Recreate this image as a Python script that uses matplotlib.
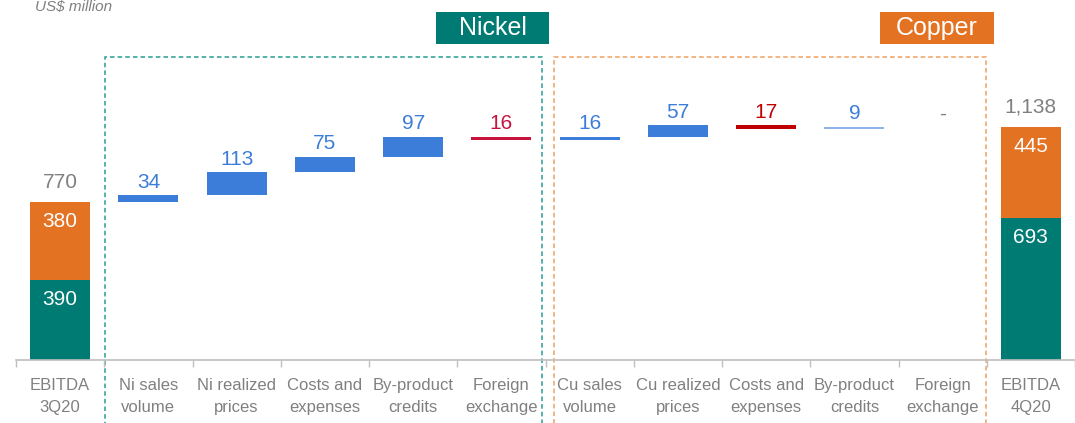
import matplotlib
matplotlib.use("Agg")
import matplotlib.pyplot as plt
from matplotlib.patches import Rectangle
from matplotlib import font_manager
import matplotlib.transforms as mtransforms

plt.rcParams['font.family'] = ['Liberation Sans', 'DejaVu Sans']

# --- data -------------------------------------------------------------
categories = ['EBITDA\n3Q20', 'Ni sales\nvolume', 'Ni realized\nprices',
              'Costs and\nexpenses', 'By-product\ncredits', 'Foreign\nexchange',
              'Cu sales\nvolume', 'Cu realized\nprices', 'Costs and\nexpenses',
              'By-product\ncredits', 'Foreign\nexchange', 'EBITDA\n4Q20']
start_nickel, start_copper = 390, 380
end_nickel, end_copper = 693, 445
deltas = [34, 113, 75, 97, -16, 16, 57, -17, 9, 0]
delta_colors = ['#3C7DD9', '#3C7DD9', '#3C7DD9', '#3C7DD9', '#C8143C',
                '#3C7DD9', '#3C7DD9', '#C00000', '#8DB4E6', '#808080']
label_colors = ['#3C7DD9', '#3C7DD9', '#3C7DD9', '#3C7DD9', '#C8143C',
                '#3C7DD9', '#3C7DD9', '#C00000', '#3C7DD9', '#808080']

TEAL = '#007B73'
ORANGE = '#E37222'
GRAY = '#808080'

# narrow face for the category labels if we have it
installed = {f.name for f in font_manager.fontManager.ttflist}
if 'Liberation Sans Narrow' in installed:
    cat_font, cat_size = ['Liberation Sans Narrow', 'DejaVu Sans'], 13.5
else:
    cat_font, cat_size = ['Liberation Sans', 'DejaVu Sans'], 12

fig = plt.figure(figsize=(10.75, 4.23), dpi=100)
ax = fig.add_axes([0.0149, 0.149, 0.9851, 0.851])
x = list(range(len(categories)))
w = 0.68
VS = 15


def inner(xi, top, txt):
    ax.annotate(txt, (xi, top), xytext=(0, -14), textcoords='offset points',
                ha='center', va='center', color='white', fontsize=VS)


# start bar
ax.bar(0, start_nickel, w, color=TEAL)
ax.bar(0, start_copper, w, bottom=start_nickel, color=ORANGE)
start_total = start_nickel + start_copper
inner(0, start_nickel, f'{start_nickel}')
inner(0, start_total, f'{start_copper}')
ax.annotate(f'{start_total:,}', (0, start_total), xytext=(0, 14.5), textcoords='offset points',
            ha='center', va='center', color=GRAY, fontsize=VS)

# deltas
level = start_total
for i, d in enumerate(deltas):
    xi = i + 1
    new = level + d
    if d != 0:
        ax.bar(xi, abs(d), w, bottom=min(level, new), color=delta_colors[i])
    top = max(level, new)
    lab = f'{abs(d)}' if d != 0 else '-'
    ax.annotate(lab, (xi, top), xytext=(0, 9.5), textcoords='offset points',
                ha='center', va='center', color=label_colors[i], fontsize=VS)
    level = new

# end bar
xe = len(categories) - 1
end_total = end_nickel + end_copper
ax.bar(xe, end_nickel, w, color=TEAL)
ax.bar(xe, end_copper, w, bottom=end_nickel, color=ORANGE)
inner(xe, end_nickel, f'{end_nickel}')
inner(xe, end_total, f'{end_copper}')
ax.annotate(f'{end_total:,}', (xe, end_total), xytext=(0, 14.5), textcoords='offset points',
            ha='center', va='center', color=GRAY, fontsize=VS)

ax.set_xlim(-0.5, 11.36)
ax.set_ylim(0, 1759)

# axes styling
for s in ['left', 'right', 'top']:
    ax.spines[s].set_visible(False)
ax.spines['bottom'].set_color('#BFBFBF')
ax.spines['bottom'].set_linewidth(1.2)
ax.set_yticks([])
ax.set_xticks(x)
ax.set_xticklabels(categories, color=GRAY, fontsize=cat_size, linespacing=1.6,
                   family=cat_font)
ax.set_xticks([k + 0.5 for k in range(-1, len(categories))], minor=True)
ax.tick_params(axis='x', which='major', length=0, pad=13)
ax.tick_params(axis='x', which='minor', length=5, color='#BFBFBF', width=1)

# dashed group boxes
trans = mtransforms.blended_transform_factory(ax.transData, ax.transAxes)
ax.add_patch(Rectangle((0.51, -0.2), 4.95, 1.042, transform=trans, fill=False,
                       edgecolor='#2A9D96', linestyle=(0, (3, 2)), linewidth=1.1, clip_on=False))
ax.add_patch(Rectangle((5.6, -0.2), 4.89, 1.042, transform=trans, fill=False,
                       edgecolor='#F0A060', linestyle=(0, (3, 2)), linewidth=1.1, clip_on=False))

# group title boxes
ax.add_patch(Rectangle((4.26, 0.878), 1.28, 0.089, transform=trans, facecolor=TEAL,
                       edgecolor='none', clip_on=False))
ax.text(4.90, 0.922, 'Nickel', transform=trans, ha='center', va='center', color='white', fontsize=18)
ax.add_patch(Rectangle((9.29, 0.878), 1.29, 0.089, transform=trans, facecolor=ORANGE,
                       edgecolor='none', clip_on=False))
ax.text(9.935, 0.922, 'Copper', transform=trans, ha='center', va='center', color='white', fontsize=18)

fig.text(0.033, 0.999, 'US$ million', ha='left', va='top', color=GRAY, fontsize=11, style='italic')

fig.savefig('out.png', dpi=100)
